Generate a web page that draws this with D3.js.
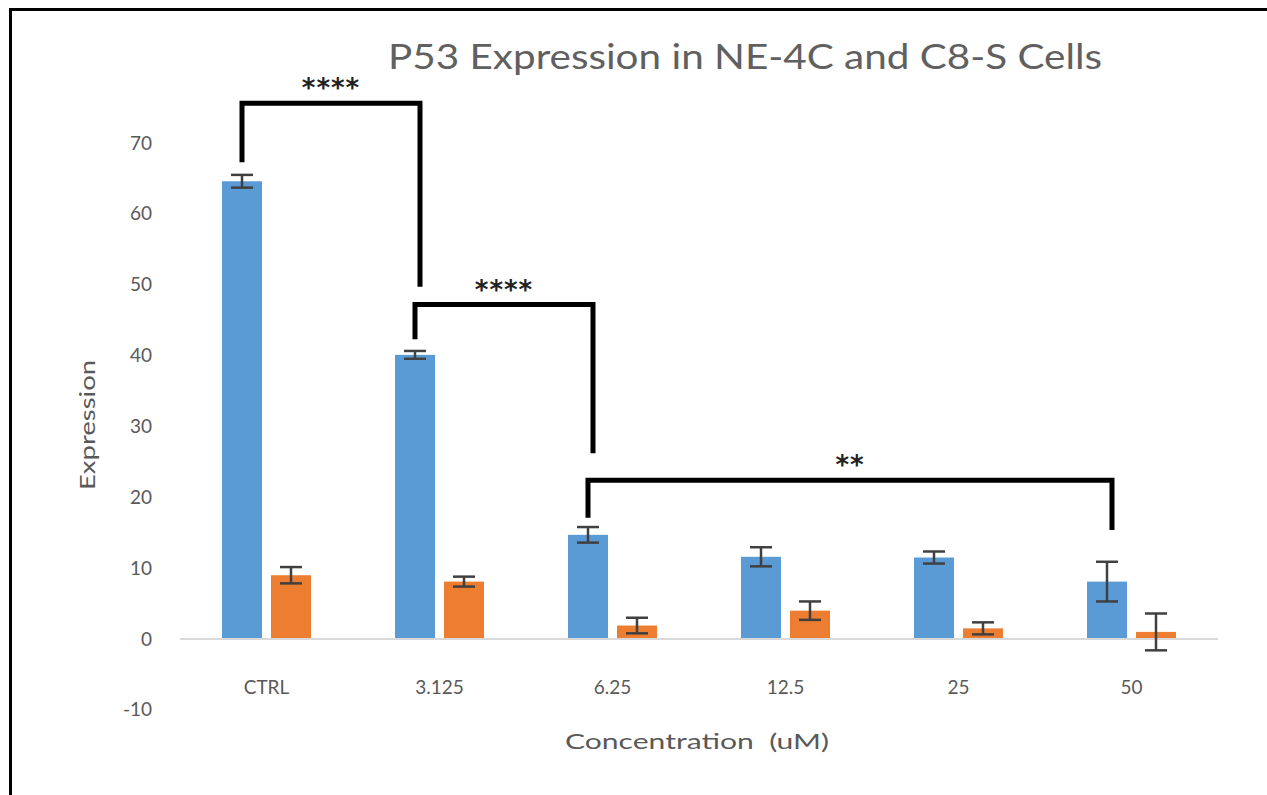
<!DOCTYPE html>
<html>
<head>
<meta charset="utf-8">
<script src="https://cdn.jsdelivr.net/npm/d3@7"></script>
<style>
body { margin: 0; background: white; }
svg { display: block; }
</style>
</head>
<body>
<svg></svg>
<script>
var screen = {width: 1267, height: 795}

// data
var categories = ["CTRL", "3.125", "6.25", "12.5", "25", "50"]
var seriesNames = ["NE-4C", "C8-S"]
var ne4c = [64.6, 40.1, 14.7, 11.6, 11.5, 8.1]
var ne4cErr = [0.9, 0.55, 1.1, 1.35, 0.85, 2.8]
var c8s = [9.0, 8.1, 1.9, 4.0, 1.5, 1.0]
var c8sErr = [1.15, 0.7, 1.1, 1.3, 0.85, 2.6]
var yTicks = [-10, 0, 10, 20, 30, 40, 50, 60, 70]

// significance brackets: category index and levels in data units
var brackets = [
    {from: 0, to: 1, left: 67.3, top: 75.6, right: 49.7, label: "****"},
    {from: 1, to: 2, left: 42.3, top: 47.2, right: 26.2, label: "****"},
    {from: 2, to: 5, left: 17.1, top: 22.4, right: 15.4, label: "**"}
]

var colors = {"NE-4C": "#5b9bd5", "C8-S": "#ed7d31"}
var textGray = "#595959"

var svg = d3.select("svg")
    .attr("width", screen.width)
    .attr("height", screen.height)

// frame around the chart (cut off at right/bottom)
svg.append("rect")
    .attr("x", 10.5).attr("y", 9.5)
    .attr("width", 1400).attr("height", 1000)
    .style("fill", "none")
    .style("stroke", "black")
    .style("stroke-width", 3)

var x0 = d3.scaleBand().domain(categories).range([180, 1218]).padding(0)
var x1 = d3.scaleBand().domain(seriesNames).range([0, x0.bandwidth()])
    .paddingInner(0.184).paddingOuter(0.857)
var y = d3.scaleLinear().domain([0, 70]).range([639, 143])

var rows = categories.map(function(c, i) {
    return [
        {cat: c, s: "NE-4C", v: ne4c[i], e: ne4cErr[i]},
        {cat: c, s: "C8-S", v: c8s[i], e: c8sErr[i]}
    ]
})
var flat = [].concat.apply([], rows)

// y axis labels (no line, no ticks)
var yAxis = d3.axisLeft(y).tickValues(yTicks).tickSize(0).tickPadding(0)
    .tickFormat(function(d) { return String(d) })
var yg = svg.append("g").attr("transform", "translate(152,0)").call(yAxis)
yg.select(".domain").remove()
yg.selectAll("text")
    .style("font-family", "Lato, 'Open Sans', sans-serif")
    .style("font-size", "19px")
    .style("fill", textGray)

// bars
svg.append("g").selectAll("rect")
    .data(flat)
    .enter()
    .append("rect")
    .attr("x", function(d) { return x0(d.cat) + x1(d.s) })
    .attr("width", x1.bandwidth())
    .attr("y", function(d) { return y(d.v) })
    .attr("height", function(d) { return y(0) - y(d.v) })
    .style("fill", function(d) { return colors[d.s] })

// baseline
svg.append("line")
    .attr("x1", x0.range()[0]).attr("x2", x0.range()[1])
    .attr("y1", y(0)).attr("y2", y(0))
    .style("stroke", "#d9d9d9")
    .style("stroke-width", 2)

// error bars
var eg = svg.append("g").selectAll("g")
    .data(flat)
    .enter()
    .append("g")
    .attr("transform", function(d) { return "translate(" + (x0(d.cat) + x1(d.s) + x1.bandwidth() / 2) + ",0)" })
    .style("stroke", "#404040")
    .style("stroke-width", 2.5)
eg.append("line")
    .attr("y1", function(d) { return y(d.v + d.e) })
    .attr("y2", function(d) { return y(d.v - d.e) })
eg.append("line")
    .attr("x1", -11).attr("x2", 11)
    .attr("y1", function(d) { return y(d.v + d.e) })
    .attr("y2", function(d) { return y(d.v + d.e) })
eg.append("line")
    .attr("x1", -11).attr("x2", 11)
    .attr("y1", function(d) { return y(d.v - d.e) })
    .attr("y2", function(d) { return y(d.v - d.e) })

// x category labels
svg.append("g").selectAll("text")
    .data(categories)
    .enter()
    .append("text")
    .attr("x", function(d) { return x0(d) + x0.bandwidth() / 2 })
    .attr("y", 694)
    .attr("text-anchor", "middle")
    .style("font-family", "Lato, 'Open Sans', sans-serif")
    .style("font-size", "19px")
    .style("fill", textGray)
    .text(function(d) { return d })

// brackets
var blueCenter = function(i) {
    return x0(categories[i]) + x1("NE-4C") + x1.bandwidth() / 2
}
var bg = svg.append("g").selectAll("g")
    .data(brackets)
    .enter()
    .append("g")
bg.append("path")
    .attr("d", function(d) {
        return d3.line()([
            [blueCenter(d.from), y(d.left)],
            [blueCenter(d.from), y(d.top)],
            [blueCenter(d.to) + 5, y(d.top)],
            [blueCenter(d.to) + 5, y(d.right)]
        ])
    })
    .style("fill", "none")
    .style("stroke", "black")
    .style("stroke-width", 5)
bg.append("text")
    .attr("x", function(d) { return (blueCenter(d.from) + blueCenter(d.to) + 5) / 2 })
    .attr("y", function(d) { return y(d.top) - 6 })
    .attr("text-anchor", "middle")
    .style("font-family", "'DejaVu Sans', sans-serif")
    .style("font-weight", "bold")
    .style("font-size", "26px")
    .style("letter-spacing", "1px")
    .style("fill", "#222")
    .text(function(d) { return d.label })

// title
svg.append("text")
    .attr("x", 745).attr("y", 69)
    .attr("text-anchor", "middle")
    .attr("textLength", 714)
    .attr("lengthAdjust", "spacingAndGlyphs")
    .style("font-family", "Lato, 'Open Sans', sans-serif")
    .style("font-size", "35px")
    .style("fill", "#606060")
    .text("P53 Expression in NE-4C and C8-S Cells")

// axis titles
svg.append("text")
    .attr("transform", "translate(95,425) rotate(-90)")
    .attr("text-anchor", "middle")
    .attr("textLength", 130)
    .attr("lengthAdjust", "spacingAndGlyphs")
    .style("font-family", "Lato, 'Open Sans', sans-serif")
    .style("font-size", "21px")
    .style("fill", textGray)
    .text("Expression")

svg.append("text")
    .attr("x", 697).attr("y", 749)
    .attr("text-anchor", "middle")
    .attr("textLength", 264)
    .attr("lengthAdjust", "spacingAndGlyphs")
    .style("font-family", "Lato, 'Open Sans', sans-serif")
    .style("font-size", "21px")
    .style("white-space", "pre")
    .style("fill", textGray)
    .text("Concentration  (uM)")
</script>
</body>
</html>
